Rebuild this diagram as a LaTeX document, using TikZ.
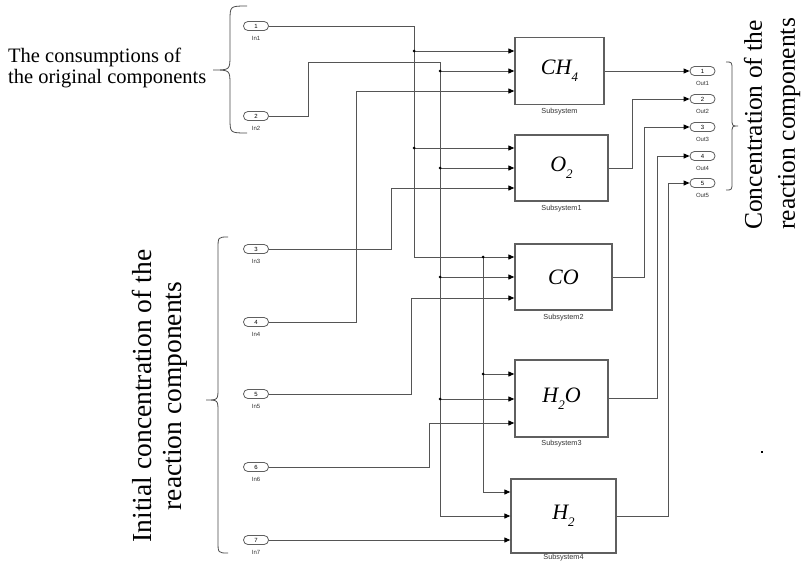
\documentclass[tikz,border=0pt]{standalone}
\usepackage{fontspec}
\setmainfont{Liberation Serif}
\newfontfamily\arialf{Liberation Sans}
\usetikzlibrary{arrows.meta}
\definecolor{wirec}{RGB}{85,85,85}
\definecolor{bord}{RGB}{95,95,95}
\newcommand{\chemsub}[1]{\raisebox{-0.32em}{\fontsize{13}{13}\selectfont #1}}
\begin{document}
\begin{tikzpicture}[x=1pt,y=-1pt,
  port/.style={draw=bord, line width=0.8pt, rounded corners=4.4pt, minimum width=25pt, minimum height=9pt, inner sep=0pt, font=\arialf\fontsize{6}{6}\selectfont},
  plabel/.style={font=\arialf\fontsize{6}{6}\selectfont, inner sep=0pt, text=black!80},
  blk/.style={draw=bord, line width=1.3pt, inner sep=0pt, font=\fontsize{22}{22}\selectfont\itshape},
  slabel/.style={font=\arialf\fontsize{7.3}{7.3}\selectfont, inner sep=0pt, text=black!80},
  wire/.style={draw=wirec, line width=1pt},
  arr/.style={wire, -{Triangle[length=6pt,width=5pt,color=black]}},
  jdot/.style={circle, fill=black, inner sep=0pt, minimum size=3pt},
  brc/.style={draw=black!70, line width=0.8pt},
]
\fill[white] (0,0) rectangle (803,562);
\useasboundingbox (0,0) rectangle (803,562);

% input ports
\foreach \i/\y in {1/26,2/116,3/249,4/322,5/394,6/467,7/540}{
  \node[port] (p\i) at (256,\y) {\i};
  \node[plabel] (pl\i) at (256,\y+12) {In\i};
}
% output ports
\foreach \i/\y in {1/71,2/99,3/127,4/156,5/183}{
  \node[port] (o\i) at (702.5,\y) {\i};
  \node[plabel] (ol\i) at (702.5,\y+12) {Out\i};
}

% blocks
\node[blk, minimum width=89pt, minimum height=67pt] (b1) at (559.5,71) {CH\chemsub{4}};
\node[blk, minimum width=93pt, minimum height=66pt] (b2) at (561.5,168) {O\chemsub{2}};
\node[blk, minimum width=97pt, minimum height=66pt] (b3) at (563.5,277) {CO};
\node[blk, minimum width=93pt, minimum height=77pt] (b4) at (561.5,398.5) {H\chemsub{2}O};
\node[blk, minimum width=105pt, minimum height=74pt] (b5) at (563.5,516) {H\chemsub{2}};
\node[slabel] (s1) at (559.5,112) {Subsystem};
\node[slabel] (s2) at (561.5,209) {Subsystem1};
\node[slabel] (s3) at (563.5,318) {Subsystem2};
\node[slabel] (s4) at (561.5,444) {Subsystem3};
\node[slabel, anchor=south] (s5) at (563.5,561.5) {Subsystem4};

% In1 bus
\coordinate (a0) at (414,26);
\coordinate (a1) at (414,51);
\coordinate (a2) at (414,148);
\coordinate (a3) at (414,257);
\coordinate (c0) at (483,257);
\coordinate (c1) at (483,374);
\coordinate (c2) at (483,492);
\draw[wire] (p1.east) -- (a0) -- (a3);
\draw[arr] (a3) -- (a3 -| b3.west);
\draw[arr] (a1) -- (a1 -| b1.west);
\draw[arr] (a2) -- (a2 -| b2.west);
\draw[wire] (c0) -- (c2);
\draw[arr] (c1) -- (c1 -| b4.west);
\draw[arr] (c2) -- (c2 -| b5.west);

% In2 bus
\coordinate (q0) at (308,116);
\coordinate (q1) at (308,62);
\coordinate (q2) at (440,62);
\coordinate (q3) at (440,71);
\coordinate (q4) at (440,168);
\coordinate (q5) at (440,277);
\coordinate (q6) at (440,399);
\coordinate (q7) at (440,516);
\draw[wire] (p2.east) -- (q0) -- (q1) -- (q2) -- (q7);
\draw[arr] (q3) -- (q3 -| b1.west);
\draw[arr] (q4) -- (q4 -| b2.west);
\draw[arr] (q5) -- (q5 -| b3.west);
\draw[arr] (q6) -- (q6 -| b4.west);
\draw[arr] (q7) -- (q7 -| b5.west);

% In3..In7
\coordinate (r0) at (391,249);
\coordinate (r1) at (391,188);
\draw[wire] (p3.east) -- (r0) -- (r1);
\draw[arr] (r1) -- (r1 -| b2.west);
\coordinate (s0) at (356,322);
\coordinate (s1c) at (356,91);
\draw[wire] (p4.east) -- (s0) -- (s1c);
\draw[arr] (s1c) -- (s1c -| b1.west);
\coordinate (u0) at (411,394);
\coordinate (u1) at (411,298);
\draw[wire] (p5.east) -- (u0) -- (u1);
\draw[arr] (u1) -- (u1 -| b3.west);
\coordinate (v0) at (429,467);
\coordinate (v1) at (429,423);
\draw[wire] (p6.east) -- (v0) -- (v1);
\draw[arr] (v1) -- (v1 -| b4.west);
\draw[arr] (p7.east) -- (p7.east -| b5.west);

% junction dots
\foreach \n in {a1,a2,c0,c1,q3,q4,q5,q6}{
  \node[jdot] (d\n) at (\n) {};
}

% outputs
\draw[arr] (b1.east) -- (o1.west);
\coordinate (w2) at (632,168);
\draw[arr] (b2.east) -- (w2) -- (w2 |- o2.west) -- (o2.west);
\coordinate (w3) at (644,277);
\draw[arr] (b3.east) -- (w3) -- (w3 |- o3.west) -- (o3.west);
\coordinate (w4) at (657,398.5);
\draw[arr] (b4.east) -- (w4) -- (w4 |- o4.west) -- (o4.west);
\coordinate (w5) at (668,516);
\draw[arr] (b5.east) -- (w5) -- (w5 |- o5.west) -- (o5.west);

% braces
\draw[brc] (247,6) .. controls (230,6) .. (230,21) -- (230,55) .. controls (230,70) .. (213,70)
  .. controls (230,70) .. (230,85) -- (230,118) .. controls (230,133) .. (247,133);
\draw[brc] (228,237) .. controls (218,237) .. (218,249) -- (218,388) .. controls (218,400) .. (206,400)
  .. controls (218,400) .. (218,412) -- (218,541) .. controls (218,553) .. (228,553);
\draw[brc] (726,62) .. controls (732,62) .. (732,70) -- (732,118) .. controls (732,126) .. (738,126)
  .. controls (732,126) .. (732,134) -- (732,182) .. controls (732,190) .. (726,190);

% texts
\node[anchor=west, align=left, font=\fontsize{20.5}{21}\selectfont, inner sep=0pt] (t1) at (8,68)
  {The consumptions of\\the original components};
\node[rotate=90, align=center, font=\fontsize{27.5}{30}\selectfont, inner sep=0pt] (t2) at (160,396)
  {Initial concentration of the\\reaction components};
\node[rotate=90, anchor=west, align=left, font=\fontsize{25.5}{33}\selectfont, inner sep=0pt] (t3) at (772,230)
  {Concentration of the\\reaction components};
\node[fill=black, inner sep=0pt, minimum size=2pt] (spk) at (762,452) {};
\end{tikzpicture}
\end{document}
